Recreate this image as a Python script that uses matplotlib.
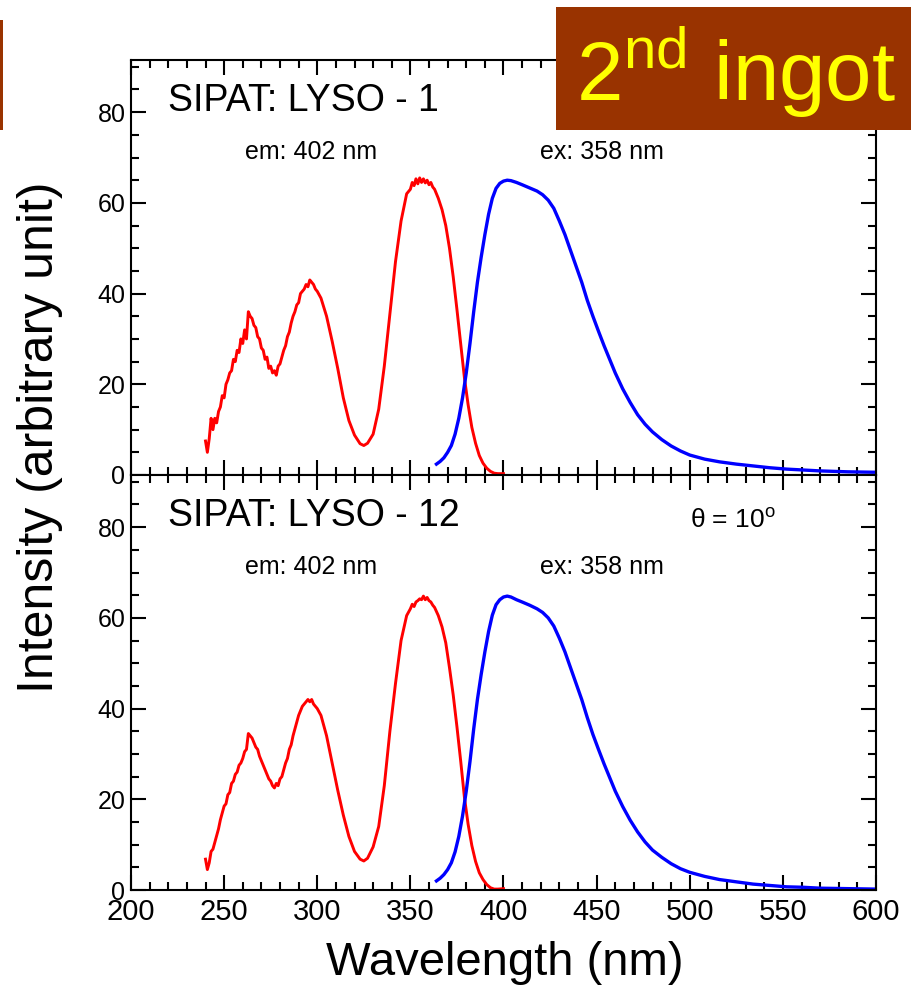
import matplotlib
matplotlib.use("Agg")
import matplotlib.pyplot as plt
from matplotlib.patches import Rectangle
from matplotlib.ticker import MultipleLocator

plt.rcParams["font.family"] = ["Liberation Sans", "DejaVu Sans"]
plt.rcParams["mathtext.fontset"] = "custom"
plt.rcParams["mathtext.rm"] = "Liberation Sans"

# ---- data ----
# excitation spectra (red), noisy part sampled every nm
ex_wl = list(range(240, 301)) + [302, 305, 308, 311, 314, 317, 320, 323, 325, 327,
                                 330, 333, 336, 339, 342, 345, 348, 350, 351, 352,
                                 353, 354, 355, 356, 357, 358, 359, 360, 361, 362,
                                 363, 365, 367, 369, 371, 373, 375, 377, 379, 381,
                                 383, 385, 387, 389, 391, 393, 395, 397, 400]

ex_lyso1 = [7.5, 5.0, 8.0, 12.5, 10.0, 12.5, 11.5, 14.0, 15.0, 17.5,
            17.0, 20.0, 21.0, 22.5, 23.0, 25.5, 25.0, 27.5, 27.0, 30.0,
            29.0, 32.0, 30.0, 36.0, 35.0, 34.5, 33.0, 32.5, 30.5, 30.0,
            28.0, 27.5, 25.5, 26.0, 23.5, 24.0, 22.5, 23.0, 22.0, 24.0,
            24.5, 26.0, 27.5, 28.5, 30.5, 31.5, 33.5, 35.0, 36.0, 37.5,
            38.0, 40.0, 40.5, 41.0, 42.0, 41.5, 43.0, 42.5, 42.0, 41.0,
            40.5,
            39.0, 35.0, 29.5, 23.5, 17.0, 12.0, 8.8, 6.9, 6.5, 7.0,
            9.0, 14.5, 24.0, 35.5, 47.0, 56.0, 62.0, 63.0, 64.5, 63.8,
            65.3, 64.2, 65.5, 64.5, 65.3, 64.4, 65.0, 64.0, 64.5, 63.5,
            63.0, 61.0, 58.5, 55.0, 50.0, 43.7, 36.5, 29.0, 21.5, 15.5,
            10.5, 7.0, 4.3, 2.6, 1.5, 0.8, 0.4, 0.3, 0.3]

ex_lyso12 = [6.8, 4.5, 6.0, 8.5, 9.0, 10.5, 12.0, 13.5, 15.5, 17.0,
             18.5, 19.0, 21.0, 21.5, 23.5, 24.0, 25.5, 26.0, 27.5, 28.0,
             29.0, 30.5, 31.0, 34.5, 34.0, 33.5, 32.5, 31.5, 31.0, 29.5,
             28.5, 27.5, 26.5, 25.5, 24.5, 24.0, 23.0, 22.5, 23.5, 23.0,
             24.5, 25.0, 26.5, 28.0, 29.0, 31.0, 32.0, 34.0, 35.5, 37.0,
             38.5, 39.5, 40.5, 41.0, 41.5, 42.0, 41.5, 42.0, 41.0, 40.5,
             40.0,
             38.5, 34.0, 28.0, 22.0, 16.5, 11.8, 8.5, 6.8, 6.4, 7.0,
             9.5, 14.0, 23.0, 35.0, 45.5, 55.0, 60.5, 62.0, 63.0, 62.5,
             63.5, 63.8, 64.2, 64.0, 64.8, 64.0, 64.5, 63.8, 63.5, 62.8,
             62.3, 60.5, 58.0, 54.5, 49.0, 43.0, 36.0, 28.5, 20.5, 14.5,
             9.8, 6.3, 3.8, 2.3, 1.2, 0.5, 0.2, 0.2, 0.3]

# emission spectra (blue)
em_wl = [364, 366, 368, 370, 372, 374, 376, 378, 380, 382,
         384, 386, 388, 390, 392, 394, 396, 398, 400, 402,
         404, 407, 410, 414, 418, 421, 424, 427, 430, 433,
         436, 439, 442, 445, 448, 451, 454, 457, 460, 464,
         468, 472, 476, 480, 485, 490, 495, 500, 508, 516,
         525, 534, 543, 552, 561, 570, 585, 600]

em_lyso1 = [2.4, 3.0, 3.8, 5.0, 6.5, 9.0, 12.5, 17.0, 22.5, 29.0,
            36.0, 42.5, 48.0, 53.0, 57.5, 61.0, 63.2, 64.3, 64.8, 65.0,
            64.9, 64.5, 64.0, 63.3, 62.6, 61.8, 60.6, 58.8, 56.0, 53.0,
            49.5, 46.0, 42.5, 38.5, 35.0, 31.7, 28.5, 25.5, 22.5, 19.0,
            16.0, 13.3, 11.2, 9.5, 7.8, 6.4, 5.3, 4.4, 3.5, 2.9,
            2.4, 2.0, 1.6, 1.3, 1.1, 0.9, 0.7, 0.6]

em_lyso12 = [2.0, 2.6, 3.4, 4.5, 6.0, 8.4, 11.8, 16.3, 21.8, 28.3,
             35.5, 42.0, 47.5, 52.5, 57.0, 60.6, 62.9, 64.0, 64.6, 64.8,
             64.6, 64.0, 63.5, 62.8, 62.0, 61.2, 60.0, 58.2, 55.5, 52.5,
             49.0, 45.5, 42.0, 38.0, 34.3, 31.0, 27.8, 24.8, 21.8, 18.4,
             15.4, 12.8, 10.6, 8.8, 7.2, 5.8, 4.7, 3.9, 3.0, 2.3,
             1.8, 1.3, 1.0, 0.7, 0.6, 0.4, 0.3, 0.2]

panel_titles = ["SIPAT: LYSO - 1", "SIPAT: LYSO - 12"]
ex_curves = [ex_lyso1, ex_lyso12]
em_curves = [em_lyso1, em_lyso12]

# ---- figure ----
W, H = 912, 989
fig = plt.figure(figsize=(W / 100, H / 100), dpi=100)

left, right = 131 / W, 876 / W
ax_top = fig.add_axes([left, 1 - 475 / H, right - left, 415 / H])
ax_bot = fig.add_axes([left, 1 - 890 / H, right - left, 415 / H])

for ax, title, ex_y, em_y in zip([ax_top, ax_bot], panel_titles, ex_curves, em_curves):
    ax.plot(ex_wl, ex_y, color="#ff0000", lw=2.1)
    ax.plot(em_wl, em_y, color="#0000ff", lw=2.4)
    ax.set_xlim(200, 600)
    ax.set_ylim(0, 91.5)
    ax.xaxis.set_major_locator(MultipleLocator(50))
    ax.xaxis.set_minor_locator(MultipleLocator(10))
    ax.yaxis.set_major_locator(MultipleLocator(20))
    ax.yaxis.set_minor_locator(MultipleLocator(5))
    ax.tick_params(which="both", direction="in", top=True, right=True, width=1.5)
    ax.tick_params(which="major", length=11)
    ax.tick_params(which="minor", length=5.5)
    ax.tick_params(axis="y", labelsize=18, pad=4)
    ax.tick_params(axis="x", labelsize=21, pad=6)
    for sp in ax.spines.values():
        sp.set_linewidth(1.5)
    ax.text(220, 82.5, title, fontsize=27, va="center", ha="left")
    ax.text(261, 71.3, "em: 402 nm", fontsize=18, va="center", ha="left")
    ax.text(419.5, 71.3, "ex: 358 nm", fontsize=18, va="center", ha="left")

ax_top.tick_params(axis="x", labelbottom=False)
ax_bot.text(500, 81.5, r"θ = 10$^{\mathrm{o}}$", fontsize=19, va="center", ha="left")

fig.text(505 / W, 1 - 963 / H, "Wavelength (nm)", fontsize=34, ha="center", va="center")
fig.text(40 / W, 1 - 437 / H, "Intensity (arbitrary unit)", fontsize=36,
         rotation=90, ha="center", va="center")

# "2nd ingot" banner and the slim brown bar at the left edge
brown = "#993300"
fig.add_artist(Rectangle((556 / W, 1 - 130 / H), (W - 556) / W, 123 / H,
                         transform=fig.transFigure, facecolor=brown,
                         edgecolor="none", zorder=5))
fig.add_artist(Rectangle((0, 1 - 130 / H), 3 / W, 110 / H,
                         transform=fig.transFigure, facecolor=brown,
                         edgecolor="none", zorder=5))
fig.text(736 / W, 1 - 72 / H, r"2$^{\mathrm{nd}}$ ingot", fontsize=60,
         color="#ffff00", ha="center", va="center", zorder=6)

fig.savefig("out.png", dpi=100)
